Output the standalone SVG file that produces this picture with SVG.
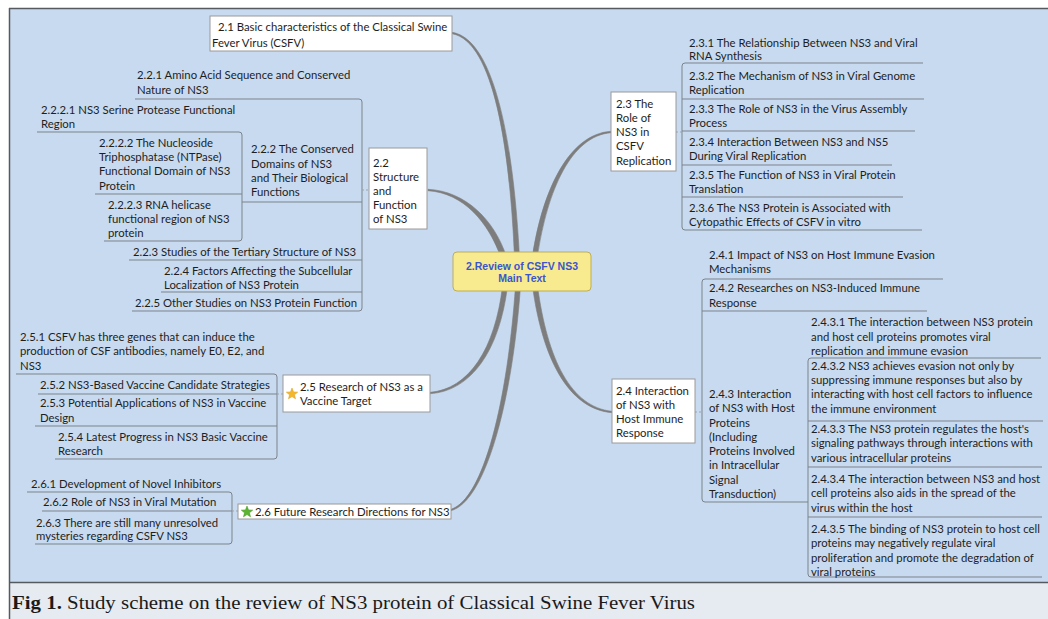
<svg xmlns="http://www.w3.org/2000/svg" width="1048" height="619" viewBox="0 0 1048 619">
<style>
.t{font-family:Lato,"Open Sans","Liberation Sans",sans-serif;font-size:11.35px;fill:#1e1e1e}
.b{fill:none;stroke:#7c838c;stroke-width:1}
.d{fill:none;stroke:#9aa3ad;stroke-width:1;stroke-dasharray:2 2}
.n{fill:#ffffff;stroke:#9a9a9a;stroke-width:1}
.c{fill:#7d7d7d;stroke:#7d7d7d;stroke-width:0.6}
.m{font-family:"Liberation Sans",Arial,sans-serif;font-size:10.5px;font-weight:bold;fill:#3a56cc}
</style>
<defs>
<polygon id="star" points="0,-6 1.53,-2.1 5.71,-1.85 2.47,0.8 3.53,4.85 0,2.6 -3.53,4.85 -2.47,0.8 -5.71,-1.85 -1.53,-2.1"/>
</defs>
<rect x="0" y="0" width="1048" height="619" fill="#ffffff"/>
<rect x="9" y="8" width="1039" height="574" fill="#c8daef"/>
<rect x="9" y="582" width="1039" height="37" fill="#e6eaf1"/>
<path d="M9,8.5 H1048 M9.5,8 V619 M9,582.5 H1048" fill="none" stroke="#555a60" stroke-width="1.5"/>

<g id="connectors">
<path class="c" d="M452,33.7 C494,41 510,150 514.5,258 L519.5,258 C514,150 496,39 452,32.3 Z"/>
<path class="c" d="M428,190.7 C464,193 489,223 501.5,259 L506.5,257 C495,221 466,191 428,189.3 Z"/>
<path class="c" d="M611,131.3 C569,134 542.5,190 532.5,256 L537.5,256 C547.5,190 571,136 611,132.7 Z"/>
<path class="c" d="M612,411.3 C571,407 547.5,360 537.5,286 L532.5,286 C542.5,360 569,409 612,412.7 Z"/>
<path class="c" d="M430,393.7 C471,391 499.5,351 507.5,286 L502.5,286 C495,349 469,389 430,392.3 Z"/>
<path class="c" d="M451,510.7 C486,501 512.5,400 520.5,286 L515.5,286 C507.5,400 484,499 451,509.3 Z"/>
<path class="b" d="M135,99 H359 Q362,99 362,102 V308 Q362,311 359,311 H132 M242,202 H362 M129,260 H362 M161,292 H362"/>
<path class="b" d="M37,132 H239 Q242,132 242,135 V238 Q242,241 239,241 H104 M95,194 H242"/>
<path class="d" d="M362,190 H369"/>
<path class="b" d="M16,374 H274 Q277,374 277,377 V456 Q277,459 274,459 H55 M38,394 H277 M35,426 H277"/>
<path class="d" d="M277,394 H283"/>
<path class="b" d="M27,492 H229 Q232,492 232,495 V541 Q232,544 229,544 H35 M42,511 H232"/>
<path class="d" d="M232,511 H238"/>
<path class="b" d="M923,63 H685 Q682,63 682,66 V227 Q682,230 685,230 H922 M924,99 H682 M915,131 H682 M892,165 H682 M903,197 H682"/>
<path class="d" d="M676,132 H682"/>
<path class="b" d="M943,279 H705 Q702,279 702,282 V499 Q702,502 705,502 H808 M927,311 H702"/>
<path class="d" d="M695,412 H702"/>
<path class="b" d="M1041,358 H811 Q808,358 808,361 V574 Q808,577 811,577 H1042 M1043,421 H808 M1042,467 H808 M1042,517 H808"/>
</g>

<g id="center">
<rect x="453" y="252" width="138" height="39" rx="4" fill="#f7ea8f" stroke="#bcae5a" stroke-width="1"/>
<text class="m" text-anchor="middle"><tspan x="522" y="270">2.Review of CSFV NS3</tspan><tspan x="522" y="282">Main Text</tspan></text>
</g>

<g id="n21">
<rect class="n" x="210" y="16" width="242" height="35"/>
<text class="t"><tspan x="218" y="31">2.1 Basic characteristics of the Classical Swine</tspan><tspan x="212" y="47">Fever Virus (CSFV)</tspan></text>
</g>

<g id="n22">
<rect class="n" x="369" y="148" width="58" height="81"/>
<text class="t"><tspan x="373" y="167">2.2</tspan><tspan x="373" y="181">Structure</tspan><tspan x="373" y="195">and</tspan><tspan x="373" y="209">Function</tspan><tspan x="373" y="223">of NS3</tspan></text>
</g>
<g id="n221"><text class="t"><tspan x="137" y="79">2.2.1 Amino Acid Sequence and Conserved</tspan><tspan x="137" y="94">Nature of NS3</tspan></text></g>
<g id="n222"><text class="t"><tspan x="251" y="153">2.2.2 The Conserved</tspan><tspan x="251" y="168">Domains of NS3</tspan><tspan x="251" y="182">and Their Biological</tspan><tspan x="251" y="196">Functions</tspan></text></g>
<g id="n2221"><text class="t"><tspan x="41" y="114">2.2.2.1 NS3 Serine Protease Functional</tspan><tspan x="41" y="128">Region</tspan></text></g>
<g id="n2222"><text class="t"><tspan x="99" y="147">2.2.2.2 The Nucleoside</tspan><tspan x="99" y="161">Triphosphatase (NTPase)</tspan><tspan x="99" y="175">Functional Domain of NS3</tspan><tspan x="99" y="190">Protein</tspan></text></g>
<g id="n2223"><text class="t"><tspan x="108" y="209">2.2.2.3 RNA helicase</tspan><tspan x="108" y="223">functional region of NS3</tspan><tspan x="108" y="237">protein</tspan></text></g>
<g id="n223"><text class="t" x="133" y="256">2.2.3 Studies of the Tertiary Structure of NS3</text></g>
<g id="n224"><text class="t"><tspan x="164" y="275">2.2.4 Factors Affecting the Subcellular</tspan><tspan x="164" y="289">Localization of NS3 Protein</tspan></text></g>
<g id="n225"><text class="t" x="135" y="307">2.2.5 Other Studies on NS3 Protein Function</text></g>

<g id="n23">
<rect class="n" x="611" y="92" width="65" height="79"/>
<text class="t"><tspan x="616" y="108">2.3 The</tspan><tspan x="616" y="122">Role of</tspan><tspan x="616" y="136">NS3 in</tspan><tspan x="616" y="150">CSFV</tspan><tspan x="616" y="165">Replication</tspan></text>
</g>
<g id="n231"><text class="t"><tspan x="689" y="47">2.3.1 The Relationship Between NS3 and Viral</tspan><tspan x="689" y="60">RNA Synthesis</tspan></text></g>
<g id="n232"><text class="t"><tspan x="689" y="80">2.3.2 The Mechanism of NS3 in Viral Genome</tspan><tspan x="689" y="94">Replication</tspan></text></g>
<g id="n233"><text class="t"><tspan x="689" y="113">2.3.3 The Role of NS3 in the Virus Assembly</tspan><tspan x="689" y="127">Process</tspan></text></g>
<g id="n234"><text class="t"><tspan x="689" y="146">2.3.4 Interaction Between NS3 and NS5</tspan><tspan x="689" y="160">During Viral Replication</tspan></text></g>
<g id="n235"><text class="t"><tspan x="689" y="179">2.3.5 The Function of NS3 in Viral Protein</tspan><tspan x="689" y="193">Translation</tspan></text></g>
<g id="n236"><text class="t"><tspan x="689" y="212">2.3.6 The NS3 Protein is Associated with</tspan><tspan x="689" y="226">Cytopathic Effects of CSFV in vitro</tspan></text></g>

<g id="n24">
<rect class="n" x="612" y="379" width="83" height="64"/>
<text class="t"><tspan x="616" y="395">2.4 Interaction</tspan><tspan x="616" y="409">of NS3 with</tspan><tspan x="616" y="423">Host Immune</tspan><tspan x="616" y="437">Response</tspan></text>
</g>
<g id="n241"><text class="t"><tspan x="709" y="259">2.4.1 Impact of NS3 on Host Immune Evasion</tspan><tspan x="709" y="273">Mechanisms</tspan></text></g>
<g id="n242"><text class="t"><tspan x="709" y="292">2.4.2 Researches on NS3-Induced Immune</tspan><tspan x="709" y="307">Response</tspan></text></g>
<g id="n243"><text class="t"><tspan x="709" y="398">2.4.3 Interaction</tspan><tspan x="709" y="412">of NS3 with Host</tspan><tspan x="709" y="427">Proteins</tspan><tspan x="709" y="441">(Including</tspan><tspan x="709" y="455">Proteins Involved</tspan><tspan x="709" y="469">in Intracellular</tspan><tspan x="709" y="484">Signal</tspan><tspan x="709" y="498">Transduction)</tspan></text></g>
<g id="n2431"><text class="t"><tspan x="811" y="326">2.4.3.1 The interaction between NS3 protein</tspan><tspan x="811" y="341">and host cell proteins promotes viral</tspan><tspan x="811" y="355">replication and immune evasion</tspan></text></g>
<g id="n2432"><text class="t"><tspan x="811" y="370">2.4.3.2 NS3 achieves evasion not only by</tspan><tspan x="811" y="384">suppressing immune responses but also by</tspan><tspan x="811" y="398">interacting with host cell factors to influence</tspan><tspan x="811" y="413">the immune environment</tspan></text></g>
<g id="n2433"><text class="t"><tspan x="811" y="433">2.4.3.3 The NS3 protein regulates the host's</tspan><tspan x="811" y="447">signaling pathways through interactions with</tspan><tspan x="811" y="462">various intracellular proteins</tspan></text></g>
<g id="n2434"><text class="t"><tspan x="811" y="483">2.4.3.4 The interaction between NS3 and host</tspan><tspan x="811" y="497">cell proteins also aids in the spread of the</tspan><tspan x="811" y="512">virus within the host</tspan></text></g>
<g id="n2435"><text class="t"><tspan x="811" y="533">2.4.3.5 The binding of NS3 protein to host cell</tspan><tspan x="811" y="547">proteins may negatively regulate viral</tspan><tspan x="811" y="562">proliferation and promote the degradation of</tspan><tspan x="811" y="576">viral proteins</tspan></text></g>

<g id="n25">
<rect class="n" x="283" y="375" width="147" height="37"/>
<use href="#star" x="292" y="394" fill="#f4b62a" stroke="#d99a1c" stroke-width="0.5"/>
<text class="t"><tspan x="300" y="391">2.5 Research of NS3 as a</tspan><tspan x="300" y="405">Vaccine Target</tspan></text>
</g>
<g id="n251"><text class="t"><tspan x="20" y="341">2.5.1 CSFV has three genes that can induce the</tspan><tspan x="20" y="355">production of CSF antibodies, namely E0, E2, and</tspan><tspan x="20" y="370">NS3</tspan></text></g>
<g id="n252"><text class="t" x="40" y="389">2.5.2 NS3-Based Vaccine Candidate Strategies</text></g>
<g id="n253"><text class="t"><tspan x="40" y="407">2.5.3 Potential Applications of NS3 in Vaccine</tspan><tspan x="40" y="422">Design</tspan></text></g>
<g id="n254"><text class="t"><tspan x="58" y="441">2.5.4 Latest Progress in NS3 Basic Vaccine</tspan><tspan x="58" y="455">Research</tspan></text></g>

<g id="n26">
<rect class="n" x="238" y="504" width="213" height="15"/>
<use href="#star" x="247" y="512" fill="#5cb531" stroke="#3f8f1f" stroke-width="0.5"/>
<text class="t" x="255" y="516">2.6 Future Research Directions for NS3</text>
</g>
<g id="n261"><text class="t" x="31" y="488">2.6.1 Development of Novel Inhibitors</text></g>
<g id="n262"><text class="t" x="43" y="506">2.6.2 Role of NS3 in Viral Mutation</text></g>
<g id="n263"><text class="t"><tspan x="36" y="527">2.6.3 There are still many unresolved</tspan><tspan x="36" y="540">mysteries regarding CSFV NS3</tspan></text></g>

<text x="12" y="609" font-family="'Liberation Serif','Times New Roman',serif" font-size="19" fill="#1a1a1a" textLength="683" lengthAdjust="spacingAndGlyphs"><tspan font-weight="bold">Fig 1.</tspan> Study scheme on the review of NS3 protein of Classical Swine Fever Virus</text>
</svg>
